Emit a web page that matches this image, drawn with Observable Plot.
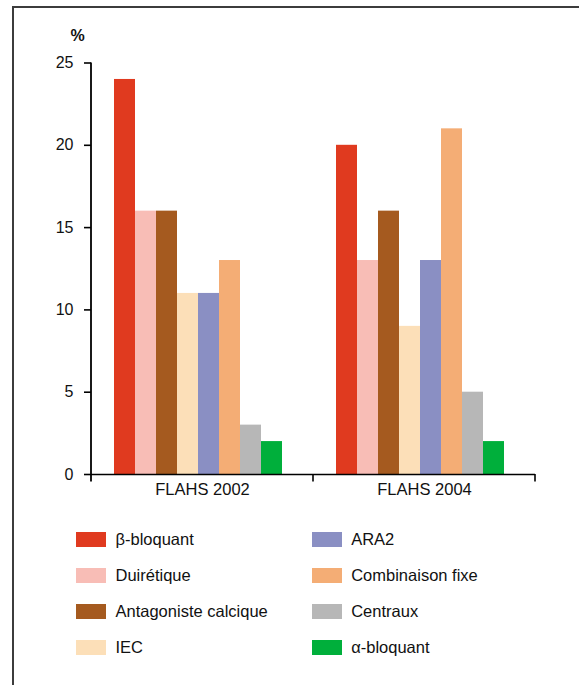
<!DOCTYPE html>
<html><head><meta charset="utf-8">
<script src="https://cdn.jsdelivr.net/npm/d3@7"></script>
<script src="https://cdn.jsdelivr.net/npm/@observablehq/plot@0.6"></script>
<style>
html,body{margin:0;padding:0;background:#fff;}
body{width:579px;height:685px;position:relative;overflow:hidden;font-family:"Liberation Sans",Arial,sans-serif;color:#111;}
#frame{position:absolute;left:12px;top:6px;right:-4px;bottom:-4px;border-left:2px solid #3c3c3c;border-top:2px solid #3c3c3c;}
#chart{position:absolute;left:0;top:0;}
#unit{position:absolute;left:62.5px;top:27px;width:30px;text-align:center;font-weight:bold;font-size:16px;line-height:17px;}
#legend{position:absolute;left:76px;top:532px;display:grid;grid-template-columns:235.7px auto;grid-auto-flow:column;grid-template-rows:repeat(4,36px);}
.item{display:flex;align-items:flex-start;font-size:16.5px;line-height:15px;}
.sw{width:30px;height:15px;margin-right:9.5px;flex:none;}
</style>
</head><body>
<div id="frame"></div>
<div id="chart"></div>
<div id="unit">%</div>
<div id="legend"></div>
<script>
const groups = ["FLAHS 2002", "FLAHS 2004"];
const categories = ["β-bloquant", "Duirétique", "Antagoniste calcique", "IEC", "ARA2", "Combinaison fixe", "Centraux", "α-bloquant"];
const values2002 = [24, 16, 16, 11, 11, 13, 3, 2];
const values2004 = [20, 13, 16, 9, 13, 21, 5, 2];
const colors = ["#E03A1F", "#F8BDB6", "#A55A1F", "#FCDFB8", "#8A8FC3", "#F4AD75", "#B7B7B7", "#00AF3B"];
const yTicks = [0, 5, 10, 15, 20, 25];

const rows = [
  ...categories.map((c, i) => ({group: groups[0], category: c, value: values2002[i]})),
  ...categories.map((c, i) => ({group: groups[1], category: c, value: values2004[i]}))
];

const chart = Plot.plot({
  width: 579, height: 505,
  marginLeft: 90, marginRight: 44, marginTop: 62.5, marginBottom: 31,
  style: {fontFamily: '"Liberation Sans", Arial, sans-serif', fontSize: "16px", color: "#111", background: "transparent", overflow: "visible"},
  fx: {domain: groups, padding: 0, label: null},
  x: {domain: categories, paddingInner: 0, paddingOuter: 1.17, align: 0.43, axis: null},
  y: {domain: [0, 25], label: null},
  color: {domain: categories, range: colors},
  marks: [
    Plot.barY(rows, {fx: "group", x: "category", y: "value", fill: "category", inset: 0}),
    Plot.ruleY([0], {stroke: "#000", strokeWidth: 1.6}),
    Plot.axisY({ticks: yTicks, tickSize: 7, tickPadding: 11, fontSize: 16, label: null, stroke: "#000", strokeWidth: 1.6}),
    Plot.axisFx({anchor: "bottom", tickSize: 0, tickPadding: 8.5, fontSize: 16.5, label: null})
  ]
});
document.getElementById("chart").appendChild(chart);

// axis line and group boundary ticks, placed from the plot's own scales
const svg = d3.select(chart);
const ys = chart.scale("y"), fs = chart.scale("fx");
const y0 = ys.apply(0), yTop = ys.apply(yTicks[yTicks.length - 1]);
const edges = [...groups.map(g => fs.apply(g)), fs.apply(groups[groups.length - 1]) + fs.bandwidth];
svg.append("line").attr("x1", edges[0]).attr("x2", edges[0]).attr("y1", yTop).attr("y2", y0 + 7.5)
  .attr("stroke", "#000").attr("stroke-width", 1.8);
edges.slice(1).forEach(x => {
  svg.append("line").attr("x1", x).attr("x2", x).attr("y1", y0).attr("y2", y0 + 7.5)
    .attr("stroke", "#000").attr("stroke-width", 1.6);
});

// legend (column-major, two columns)
const legend = document.getElementById("legend");
categories.forEach((c, i) => {
  const item = document.createElement("div");
  item.className = "item";
  const sw = document.createElement("div");
  sw.className = "sw";
  sw.style.background = colors[i];
  const label = document.createElement("span");
  label.textContent = c;
  item.appendChild(sw);
  item.appendChild(label);
  legend.appendChild(item);
});
</script>
</body></html>
